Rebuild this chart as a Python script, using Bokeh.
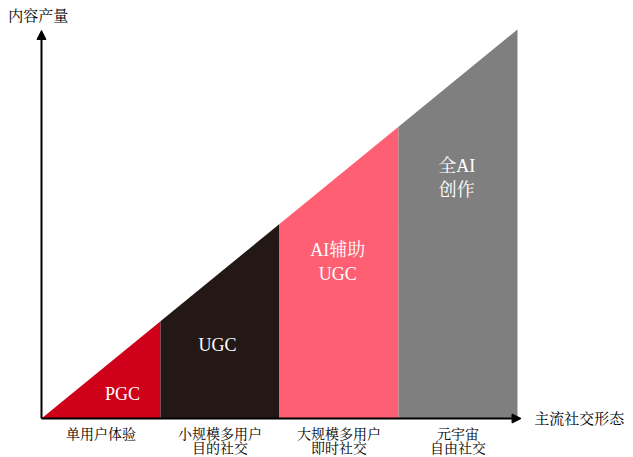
from bokeh.plotting import figure
from bokeh.models import Range1d, Arrow, NormalHead
from bokeh.core.properties import value
from bokeh.embed import file_html
from bokeh.resources import INLINE

# Social-form stages along the x axis (two text lines each) and the content mode of each stage
stage_line1 = ["单用户体验", "小规模多用户", "大规模多用户", "元宇宙"]
stage_line2 = ["", "目的社交", "即时社交", "自由社交"]
content_modes = ["PGC", "UGC", "AI辅助\nUGC", "全AI\n创作"]
# content output reached at the end of each stage
output_at_end = [1, 2, 3, 4]
colors = ["#CF0019", "#231815", "#FF5F73", "#7F7F7F"]

x_title = "主流社交形态"
y_title = "内容产量"

FONT = "Liberation Serif, Noto Serif CJK SC, Noto Sans CJK SC"

W, H = 633, 457
p = figure(width=W, height=H, output_backend="svg", toolbar_location=None,
           min_border=0, x_range=Range1d(-0.3445, 4.975), y_range=Range1d(-0.401, 4.298))
p.axis.visible = False
p.grid.visible = False
p.outline_line_color = None
p.background_fill_color = "white"

# each stage is a trapezoid under the rising output line
xs, ys = [], []
prev = 0
for i, top in enumerate(output_at_end):
    xs.append([i, i + 1, i + 1, i])
    ys.append([0, 0, top, prev])
    prev = top
p.patches(xs=xs, ys=ys, fill_color=colors, line_color=None)

# axes drawn as arrows
head = dict(size=9, fill_color="black", line_color="black")
p.add_layout(Arrow(end=NormalHead(**head), x_start=0, y_start=0, x_end=4.03, y_end=0,
                   line_width=2, line_color="black"))
p.add_layout(Arrow(end=NormalHead(**head), x_start=0, y_start=0, x_end=0, y_end=3.99,
                   line_width=2, line_color="black"))

# labels inside each band
label_x = [0.68, 1.48, 2.49, 3.49]
label_y = [0.247, 0.751, 1.614, 2.468]
p.text(x=label_x, y=label_y, text=content_modes, text_color="white",
       text_font=value(FONT), text_font_size="18px", text_align="center",
       text_baseline="middle", text_line_height=1.2)

# stage names below the x axis
centers = [i + 0.5 for i in range(len(stage_line1))]
p.text(x=centers, y=[-0.165] * len(centers), text=stage_line1,
       text_color="black", text_font=value(FONT), text_font_size="14px",
       text_align="center", text_baseline="middle")
p.text(x=centers, y=[-0.305] * len(centers), text=stage_line2,
       text_color="black", text_font=value(FONT), text_font_size="14px",
       text_align="center", text_baseline="middle")

# axis titles
p.text(x=[4.14], y=[0.0], text=[x_title], text_font=value(FONT), text_font_size="15px",
       text_align="left", text_baseline="middle", text_color="black")
p.text(x=[-0.28], y=[4.14], text=[y_title], text_font=value(FONT), text_font_size="15px",
       text_align="left", text_baseline="middle", text_color="black")

open("out.html", "w").write(file_html(p, INLINE))
